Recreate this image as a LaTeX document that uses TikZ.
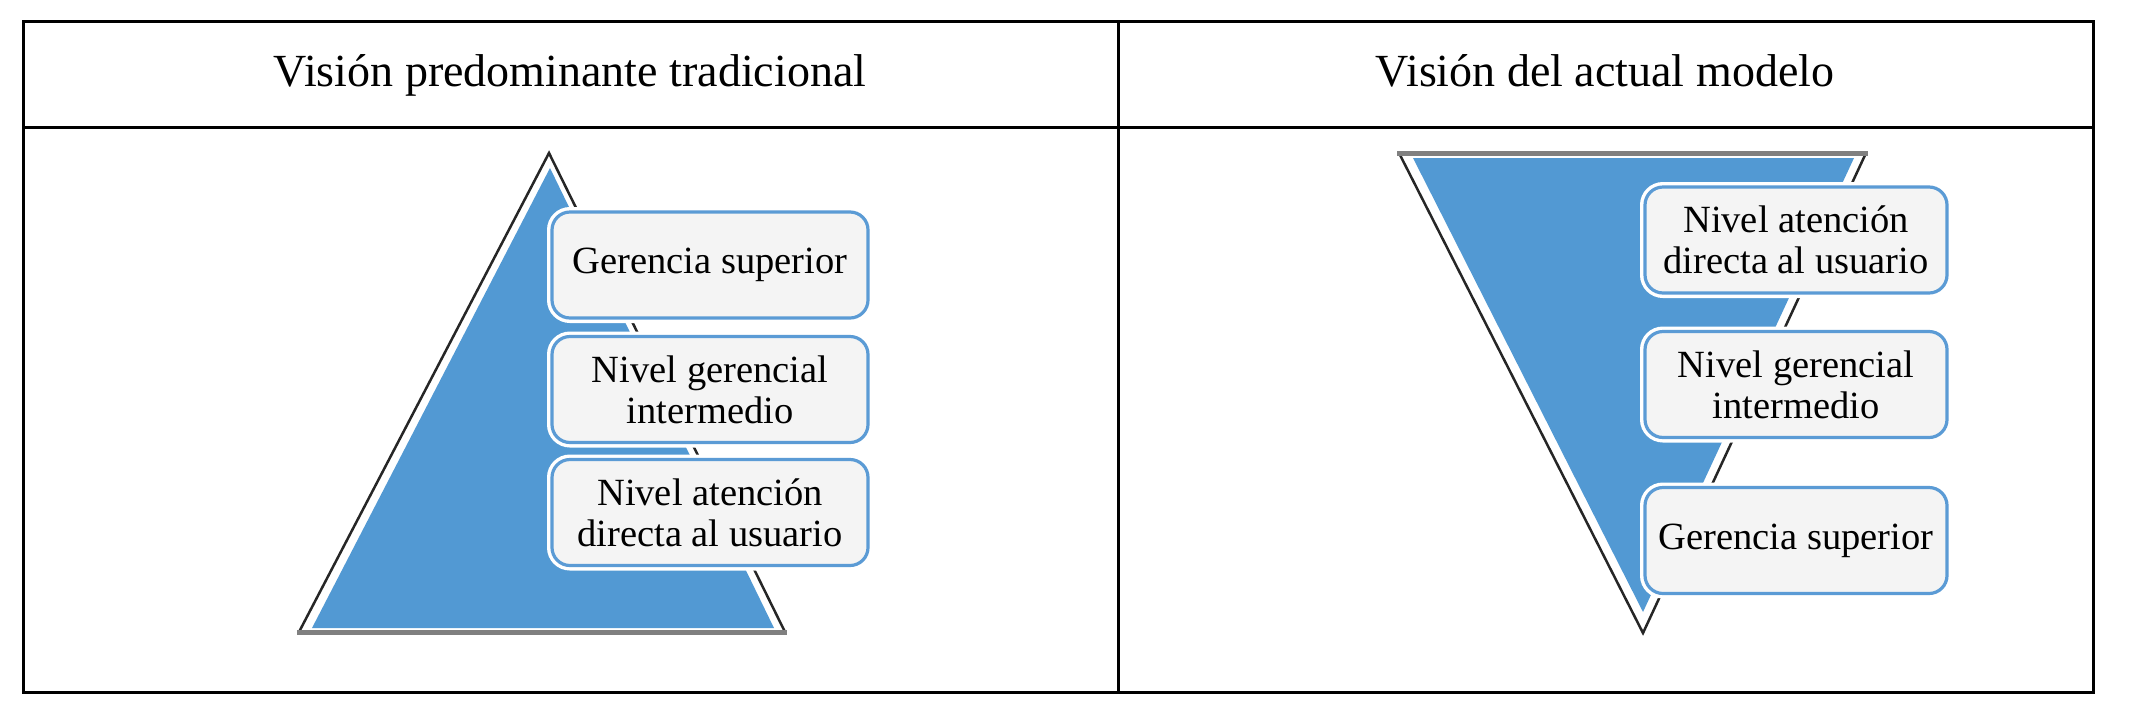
\documentclass[tikz,border=0pt]{standalone}
\usepackage{fontspec}
\setmainfont{Liberation Serif}
\definecolor{triblue}{HTML}{5299D3}
\definecolor{boxblue}{HTML}{5B9BD5}
\definecolor{boxfill}{HTML}{F4F4F4}
\definecolor{edgegrey}{HTML}{808080}
\begin{document}
\begin{tikzpicture}[x=1pt,y=-1pt,
  levelbox/.style={draw=boxblue, line width=3.2pt, fill=boxfill, rounded corners=18pt,
    minimum height=106pt, inner sep=0pt, align=center,
    font=\fontsize{38.5}{41}\selectfont, preaction={draw=white, line width=10pt}},
  headtext/.style={font=\fontsize{46}{50}\selectfont, anchor=base, inner sep=0pt},
  tabline/.style={line width=3pt, draw=black},
  triedge/.style={line width=2.5pt, draw=black!85},
  flatedge/.style={line width=5pt, draw=edgegrey},
  trifill/.style={fill=triblue}]
\useasboundingbox (0,0) rectangle (2134,724);
% table
\draw[tabline] (23,21) rectangle (2093,692);
\draw[tabline] (23,127) -- (2093,127);
\draw[tabline] (1118,21) -- (1118,692);
\node[headtext] (h1) at (570,86) {Visión predominante tradicional};
\node[headtext] (h2) at (1605,86) {Visión del actual modelo};
% left triangle
\draw[triedge] (299,632) -- (549,153) -- (785,632);
\draw[flatedge] (297,632) -- (787,632);
\fill[trifill] (312,628) -- (550,168) -- (774,628) -- cycle;
% right triangle
\draw[triedge] (1399,153) -- (1643,633) -- (1866,153);
\draw[flatedge] (1397,153) -- (1868,153);
\fill[trifill] (1413,158) -- (1854,158) -- (1643,612) -- cycle;
% left boxes
\node[levelbox, minimum width=316pt] (l1) at (710,265) {Gerencia superior};
\node[levelbox, minimum width=316pt] (l2) at (710,389.5) {Nivel gerencial\\intermedio};
\node[levelbox, minimum width=316pt] (l3) at (710,512.5) {Nivel atención\\directa al usuario};
% right boxes
\node[levelbox, minimum width=302pt] (r1) at (1796,240) {Nivel atención\\directa al usuario};
\node[levelbox, minimum width=302pt] (r2) at (1796,384.5) {Nivel gerencial\\intermedio};
\node[levelbox, minimum width=302pt] (r3) at (1796,540.5) {Gerencia superior};
\end{tikzpicture}
\end{document}
